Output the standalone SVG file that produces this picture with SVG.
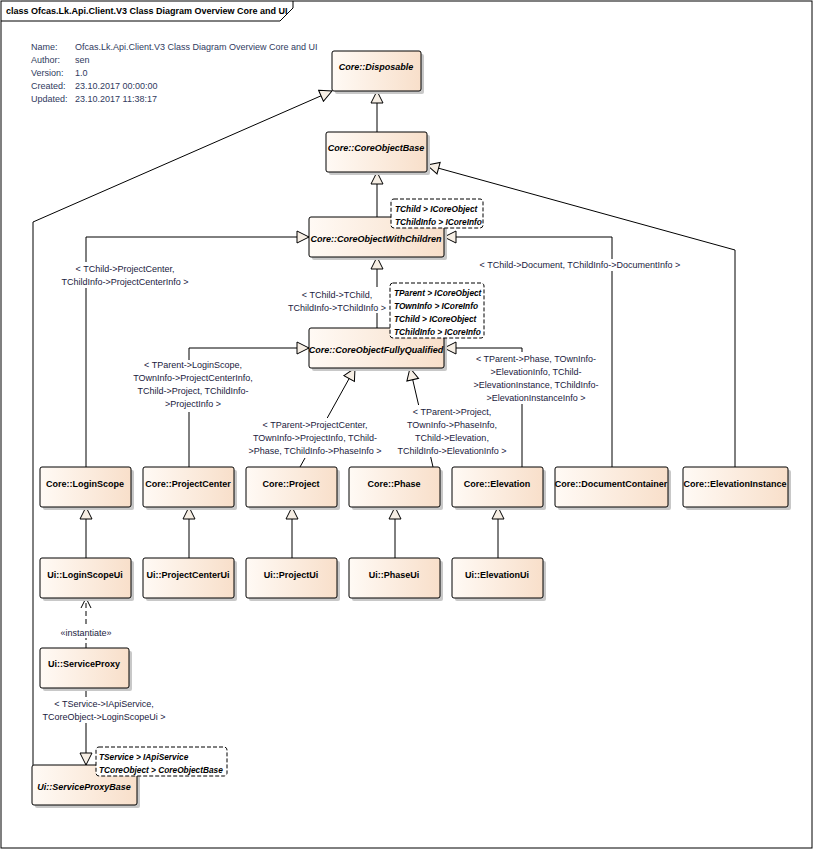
<svg xmlns="http://www.w3.org/2000/svg" width="813" height="850" viewBox="0 0 813 850">
<defs>
<linearGradient id="g" x1="0" y1="0" x2="1" y2="0"><stop offset="0" stop-color="#fffaf5"/><stop offset="1" stop-color="#f8dfca"/></linearGradient>
<marker id="tri" markerWidth="14" markerHeight="14" refX="13" refY="7" orient="auto" markerUnits="userSpaceOnUse"><path d="M1,1 L13,7 L1,13 Z" fill="#f6eee4" stroke="#000" stroke-width="1"/></marker>
<marker id="open" markerWidth="12" markerHeight="12" refX="11" refY="6" orient="auto" markerUnits="userSpaceOnUse"><path d="M1,1 L11,6 L1,11" fill="none" stroke="#000"/></marker>
</defs>
<style>
text{font-family:"Liberation Sans","Open Sans",sans-serif;font-size:9px;fill:#000}
.n rect.b{fill:url(#g);stroke:#000;stroke-width:1}
.n rect.s{fill:#c8c8c8}
.n text{font-weight:bold;text-anchor:middle}
.i text{font-style:italic}
.t rect{fill:#fff;stroke:#000;stroke-dasharray:4,2}
.t text{font-style:italic;font-weight:bold;text-anchor:start;font-size:8.3px}
.c path{fill:none;stroke:#000;stroke-width:1}
.l text{text-anchor:middle;fill:#1a1a40}
.m text{fill:#303a60}
</style>
<rect x="1" y="1" width="811" height="847" fill="#fff" stroke="#000"/>
<path d="M1,21 H280 L293,8 V1" fill="none" stroke="#000"/>
<text x="6" y="14" font-weight="bold" font-size="8.4">class Ofcas.Lk.Api.Client.V3 Class Diagram Overview Core and UI</text>
<g class="m">
<text x="31" y="50">Name:</text><text x="75" y="50">Ofcas.Lk.Api.Client.V3 Class Diagram Overview Core and UI</text>
<text x="31" y="63">Author:</text><text x="75" y="63">sen</text>
<text x="31" y="76">Version:</text><text x="75" y="76">1.0</text>
<text x="31" y="89">Created:</text><text x="75" y="89">23.10.2017 00:00:00</text>
<text x="31" y="102">Updated:</text><text x="75" y="102">23.10.2017 11:38:17</text>
</g>
<g class="c" id="connectors">
<path d="M33,765 V222 L332,91" marker-end="url(#tri)"/>
<path d="M377,132 V91" marker-end="url(#tri)"/>
<path d="M377,217 V172" marker-end="url(#tri)"/>
<path d="M735,467 V250 L427,165" marker-end="url(#tri)"/>
<path d="M86,467 V237 H309" marker-end="url(#tri)"/>
<path d="M612,467 V237 H444" marker-end="url(#tri)"/>
<path d="M377,328 V257" marker-end="url(#tri)"/>
<path d="M189,467 V348 H309" marker-end="url(#tri)"/>
<path d="M300,467 L355,368" marker-end="url(#tri)"/>
<path d="M433,467 L410,368" marker-end="url(#tri)"/>
<path d="M522,467 V348 H444" marker-end="url(#tri)"/>
<path d="M86,558 V507" marker-end="url(#tri)"/>
<path d="M189,558 V507" marker-end="url(#tri)"/>
<path d="M292,558 V507" marker-end="url(#tri)"/>
<path d="M395,558 V507" marker-end="url(#tri)"/>
<path d="M498,558 V507" marker-end="url(#tri)"/>
<path d="M86,648 V598" stroke-dasharray="5,3" marker-end="url(#open)"/>
<path d="M86,688 V765" marker-end="url(#tri)"/>
</g>
<g class="l">
<rect x="62" y="262" width="126" height="26" fill="#fff"/>
<text x="125" y="272">&lt; TChild-&gt;ProjectCenter,</text><text x="125" y="285">TChildInfo-&gt;ProjectCenterInfo &gt;</text>
<rect x="484" y="259" width="192" height="12" fill="#fff"/>
<text x="580" y="268">&lt; TChild-&gt;Document, TChildInfo-&gt;DocumentInfo &gt;</text>
<rect x="292" y="287" width="86" height="26" fill="#fff"/>
<text x="337" y="298">&lt; TChild-&gt;TChild,</text><text x="337" y="311">TChildInfo-&gt;TChildInfo &gt;</text>
<rect x="132" y="360" width="120" height="52" fill="#fff"/>
<text x="193" y="368">&lt; TParent-&gt;LoginScope,</text><text x="193" y="381">TOwnInfo-&gt;ProjectCenterInfo,</text><text x="193" y="394">TChild-&gt;Project, TChildInfo-</text><text x="193" y="407">&gt;ProjectInfo &gt;</text>
<rect x="254" y="418" width="124" height="40" fill="#fff"/>
<text x="315" y="428">&lt; TParent-&gt;ProjectCenter,</text><text x="315" y="441">TOwnInfo-&gt;ProjectInfo, TChild-</text><text x="315" y="454">&gt;Phase, TChildInfo-&gt;PhaseInfo &gt;</text>
<rect x="400" y="405" width="104" height="52" fill="#fff"/>
<text x="452" y="415">&lt; TParent-&gt;Project,</text><text x="452" y="428">TOwnInfo-&gt;PhaseInfo,</text><text x="452" y="441">TChild-&gt;Elevation,</text><text x="452" y="454">TChildInfo-&gt;ElevationInfo &gt;</text>
<rect x="474" y="352" width="124" height="52" fill="#fff"/>
<text x="536" y="362">&lt; TParent-&gt;Phase, TOwnInfo-</text><text x="536" y="375">&gt;ElevationInfo, TChild-</text><text x="536" y="388">&gt;ElevationInstance, TChildInfo-</text><text x="536" y="401">&gt;ElevationInstanceInfo &gt;</text>
<rect x="57" y="626" width="58" height="12" fill="#fff"/>
<text x="86" y="636">«instantiate»</text>
<rect x="47" y="697" width="118" height="26" fill="#fff"/>
<text x="104" y="707">&lt; TService-&gt;IApiService,</text><text x="104" y="720">TCoreObject-&gt;LoginScopeUi &gt;</text>
</g>
<g class="n i" id="Disposable"><rect class="s" x="335" y="54" width="89" height="40" rx="2"/><rect class="b" x="332" y="51" width="89" height="40" rx="2"/><text x="376" y="70">Core::Disposable</text></g>
<g class="n i" id="CoreObjectBase"><rect class="s" x="329" y="135" width="101" height="40" rx="2"/><rect class="b" x="326" y="132" width="101" height="40" rx="2"/><text x="376" y="151">Core::CoreObjectBase</text></g>
<g class="n i" id="CoreObjectWithChildren"><rect class="s" x="312" y="220" width="135" height="40" rx="2"/><rect class="b" x="309" y="217" width="135" height="40" rx="2"/><text x="376" y="242">Core::CoreObjectWithChildren</text></g>
<g class="t" id="tplCOWC"><rect x="391" y="199" width="92" height="29" rx="3"/><text x="395" y="212">TChild &gt; ICoreObject</text><text x="395" y="225">TChildInfo &gt; ICoreInfo</text></g>
<g class="n i" id="CoreObjectFullyQualified"><rect class="s" x="312" y="331" width="135" height="40" rx="2"/><rect class="b" x="309" y="328" width="135" height="40" rx="2"/><text x="376" y="353">Core::CoreObjectFullyQualified</text></g>
<g class="t" id="tplCOFQ"><rect x="390" y="283" width="94" height="55" rx="3"/><text x="394" y="296">TParent &gt; ICoreObject</text><text x="394" y="309">TOwnInfo &gt; ICoreInfo</text><text x="394" y="322">TChild &gt; ICoreObject</text><text x="394" y="335">TChildInfo &gt; ICoreInfo</text></g>
<g class="n" id="LoginScope"><rect class="s" x="43" y="470" width="91" height="40" rx="2"/><rect class="b" x="40" y="467" width="91" height="40" rx="2"/><text x="85" y="487">Core::LoginScope</text></g>
<g class="n" id="ProjectCenter"><rect class="s" x="146" y="470" width="91" height="40" rx="2"/><rect class="b" x="143" y="467" width="91" height="40" rx="2"/><text x="188" y="487">Core::ProjectCenter</text></g>
<g class="n" id="Project"><rect class="s" x="249" y="470" width="91" height="40" rx="2"/><rect class="b" x="246" y="467" width="91" height="40" rx="2"/><text x="291" y="487">Core::Project</text></g>
<g class="n" id="Phase"><rect class="s" x="352" y="470" width="91" height="40" rx="2"/><rect class="b" x="349" y="467" width="91" height="40" rx="2"/><text x="394" y="487">Core::Phase</text></g>
<g class="n" id="Elevation"><rect class="s" x="455" y="470" width="91" height="40" rx="2"/><rect class="b" x="452" y="467" width="91" height="40" rx="2"/><text x="497" y="487">Core::Elevation</text></g>
<g class="n" id="DocumentContainer"><rect class="s" x="558" y="470" width="113" height="40" rx="2"/><rect class="b" x="555" y="467" width="113" height="40" rx="2"/><text x="611" y="487">Core::DocumentContainer</text></g>
<g class="n" id="ElevationInstance"><rect class="s" x="686" y="470" width="105" height="40" rx="2"/><rect class="b" x="683" y="467" width="105" height="40" rx="2"/><text x="735" y="487">Core::ElevationInstance</text></g>
<g class="n" id="LoginScopeUi"><rect class="s" x="43" y="561" width="91" height="40" rx="2"/><rect class="b" x="40" y="558" width="91" height="40" rx="2"/><text x="85" y="578">Ui::LoginScopeUi</text></g>
<g class="n" id="ProjectCenterUi"><rect class="s" x="146" y="561" width="91" height="40" rx="2"/><rect class="b" x="143" y="558" width="91" height="40" rx="2"/><text x="188" y="578">Ui::ProjectCenterUi</text></g>
<g class="n" id="ProjectUi"><rect class="s" x="249" y="561" width="91" height="40" rx="2"/><rect class="b" x="246" y="558" width="91" height="40" rx="2"/><text x="291" y="578">Ui::ProjectUi</text></g>
<g class="n" id="PhaseUi"><rect class="s" x="352" y="561" width="91" height="40" rx="2"/><rect class="b" x="349" y="558" width="91" height="40" rx="2"/><text x="394" y="578">Ui::PhaseUi</text></g>
<g class="n" id="ElevationUi"><rect class="s" x="455" y="561" width="91" height="40" rx="2"/><rect class="b" x="452" y="558" width="91" height="40" rx="2"/><text x="497" y="578">Ui::ElevationUi</text></g>
<g class="n" id="ServiceProxy"><rect class="s" x="43" y="651" width="89" height="40" rx="2"/><rect class="b" x="40" y="648" width="89" height="40" rx="2"/><text x="84" y="667">Ui::ServiceProxy</text></g>
<g class="n i" id="ServiceProxyBase"><rect class="s" x="35" y="768" width="105" height="40" rx="2"/><rect class="b" x="32" y="765" width="105" height="40" rx="2"/><text x="84" y="790">Ui::ServiceProxyBase</text></g>
<g class="t" id="tplSPB"><rect x="96" y="747" width="131" height="29" rx="3"/><text x="99" y="760">TService &gt; IApiService</text><text x="99" y="773">TCoreObject &gt; CoreObjectBase</text></g>
</svg>
